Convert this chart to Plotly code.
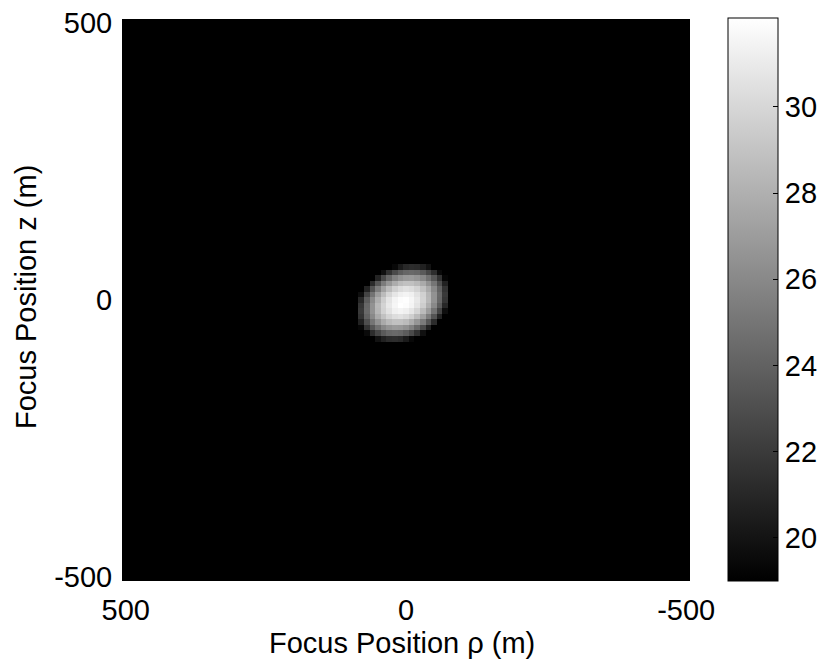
import numpy as np
import plotly.graph_objects as go

# ---- data ----
GRID_X = list(range(-500, 501, 10))      # cell centres, metres (rho)
GRID_Y = list(range(-500, 501, 10))      # cell centres, metres (z)
BACKGROUND = 19.0                        # flat floor value outside the focus
Z_MIN, Z_MAX = 19.0, 32.06               # colour bar range

BLOB_X = [90, 80, 70, 60, 50, 40, 30, 20, 10, 0, -10, -20, -30, -40, -50, -60, -70, -80]
BLOB_Y = [70, 60, 50, 40, 30, 20, 10, 0, -10, -20, -30, -40, -50, -60, -70, -80]
BLOB_Z = [
    [19, 19, 19, 19, 19, 19, 19, 19, 19, 19, 19, 19, 19, 19, 19, 19, 19, 19],
    [19, 19, 19, 19, 19, 19, 19, 19.4, 20.4, 21.1, 21.3, 21.2, 20.7, 19.9, 19, 19, 19, 19],
    [19, 19, 19, 19, 19, 19.8, 21.5, 22.8, 23.7, 24.2, 24.4, 24.2, 23.6, 22.6, 21.3, 19.5, 19, 19],
    [19, 19, 19, 19, 20.8, 22.8, 24.4, 25.6, 26.4, 26.8, 26.9, 26.6, 25.9, 24.8, 23.4, 21.6, 19.3, 19],
    [19, 19, 19, 21.2, 23.4, 25.3, 26.7, 27.8, 28.6, 28.9, 28.9, 28.5, 27.7, 26.5, 25.0, 23.0, 20.7, 19],
    [19, 19, 20.8, 23.3, 25.4, 27.2, 28.6, 29.6, 30.2, 30.5, 30.3, 29.8, 28.9, 27.7, 26.0, 24.0, 21.6, 19],
    [19, 19.7, 22.5, 24.9, 27.0, 28.6, 29.9, 30.8, 31.3, 31.5, 31.3, 30.6, 29.7, 28.3, 26.5, 24.4, 21.9, 19],
    [19, 21.0, 23.7, 26.0, 27.9, 29.5, 30.7, 31.5, 31.9, 32.0, 31.6, 30.9, 29.8, 28.4, 26.5, 24.3, 21.7, 19],
    [19, 21.7, 24.3, 26.5, 28.4, 29.8, 30.9, 31.6, 32.06, 31.9, 31.5, 30.7, 29.5, 27.9, 26.0, 23.7, 21.0, 19],
    [19, 21.9, 24.4, 26.5, 28.3, 29.7, 30.6, 31.3, 31.5, 31.3, 30.8, 29.9, 28.6, 27.0, 24.9, 22.5, 19.7, 19],
    [19, 21.6, 24.0, 26.0, 27.7, 28.9, 29.8, 30.3, 30.5, 30.2, 29.6, 28.6, 27.2, 25.4, 23.3, 20.8, 19, 19],
    [19, 20.7, 23.0, 25.0, 26.5, 27.7, 28.5, 28.9, 28.9, 28.6, 27.8, 26.7, 25.3, 23.4, 21.2, 19, 19, 19],
    [19, 19.3, 21.6, 23.4, 24.8, 25.9, 26.6, 26.9, 26.8, 26.4, 25.6, 24.4, 22.8, 20.8, 19, 19, 19, 19],
    [19, 19, 19.5, 21.3, 22.6, 23.6, 24.2, 24.4, 24.2, 23.7, 22.8, 21.5, 19.8, 19, 19, 19, 19, 19],
    [19, 19, 19, 19, 19.9, 20.7, 21.2, 21.3, 21.1, 20.4, 19.4, 19, 19, 19, 19, 19, 19, 19],
    [19, 19, 19, 19, 19, 19, 19, 19, 19, 19, 19, 19, 19, 19, 19, 19, 19, 19],
]

X_TICKS = [500, 0, -500]
X_TICK_TEXT = ["500", "0", "-500"]
Y_TICKS = [-500, 0, 500]
Y_TICK_TEXT = ["-500", "0", "500"]
CB_TICKS = [20, 22, 24, 26, 28, 30]

X_TITLE = "Focus Position \u03c1 (m)"
Y_TITLE = "Focus Position z (m)"

# ---- build grid ----
z = np.full((len(GRID_Y), len(GRID_X)), BACKGROUND)
for i, yv in enumerate(BLOB_Y):
    yi = GRID_Y.index(yv)
    for j, xv in enumerate(BLOB_X):
        z[yi, GRID_X.index(xv)] = BLOB_Z[i][j]

FONT = "Liberation Sans, Arial, Helvetica, sans-serif"
FS = 29

W, H = 821, 661
ML, MR, MT, MB = 123, 132, 20, 81
plot_w = W - ML - MR
plot_h = H - MT - MB

CB_LEFT_PX = 728
CB_THICK = 50
CB_TOP_PX = 18
CB_BOT_PX = 581
cb_len = CB_BOT_PX - CB_TOP_PX
cb_x = (CB_LEFT_PX - ML) / plot_w
cb_ybot = (H - MB - CB_BOT_PX) / plot_h
cb_ytop = (H - MB - CB_TOP_PX) / plot_h
cb_ymid = (cb_ybot + cb_ytop) / 2

fig = go.Figure(
    go.Heatmap(
        x=GRID_X,
        y=GRID_Y,
        z=z,
        zmin=Z_MIN,
        zmax=Z_MAX,
        colorscale=[[0, "black"], [1, "white"]],
        colorbar=dict(
            x=cb_x, xanchor="left",
            y=cb_ymid, yanchor="middle",
            len=cb_len, lenmode="pixels",
            thickness=CB_THICK, thicknessmode="pixels",
            xpad=0, ypad=0,
            outlinewidth=1, outlinecolor="black",
            tickvals=CB_TICKS,
            ticktext=[str(t) for t in CB_TICKS],
            ticks="inside", ticklen=5, tickcolor="black", tickwidth=1,
            tickfont=dict(family=FONT, size=FS, color="black"),
        ),
        hoverinfo="skip",
    )
)

# left-side colour bar ticks (MATLAB draws them on both sides)
shapes = []
dx = 5 / plot_w
for t in CB_TICKS:
    yp = cb_ybot + (t - Z_MIN) / (Z_MAX - Z_MIN) * (cb_ytop - cb_ybot)
    shapes.append(dict(type="line", xref="paper", yref="paper",
                       x0=cb_x, x1=cb_x + dx, y0=yp, y1=yp,
                       line=dict(color="black", width=1)))

fig.update_layout(
    width=W, height=H, autosize=False,
    margin=dict(l=ML, r=MR, t=MT, b=MB, pad=0, autoexpand=False),
    paper_bgcolor="white", plot_bgcolor="black",
    font=dict(family=FONT, size=FS, color="black"),
    shapes=shapes,
    xaxis=dict(
        range=[505, -505], tickvals=X_TICKS, ticktext=X_TICK_TEXT,
        ticks="inside", ticklen=5, tickcolor="black",
        showgrid=False, zeroline=False,
        showline=True, linecolor="black", linewidth=1, mirror=True,
        tickfont=dict(family=FONT, size=FS, color="black"),
        ticklabelstandoff=4,
    ),
    yaxis=dict(
        range=[-505, 505], tickvals=Y_TICKS, ticktext=Y_TICK_TEXT,
        ticks="inside", ticklen=5, tickcolor="black",
        showgrid=False, zeroline=False,
        showline=True, linecolor="black", linewidth=1, mirror=True,
        tickfont=dict(family=FONT, size=FS, color="black"),
        ticklabelstandoff=4,
    ),
    annotations=[
        dict(text=X_TITLE, xref="paper", yref="paper",
             x=(402 - ML) / plot_w, y=0, yshift=-63,
             xanchor="center", yanchor="middle", showarrow=False,
             font=dict(family=FONT, size=FS, color="black")),
        dict(text=Y_TITLE, xref="paper", yref="paper",
             x=(26 - ML) / plot_w, y=(H - MB - 297) / plot_h,
             xanchor="center", yanchor="middle", textangle=-90, showarrow=False,
             font=dict(family=FONT, size=FS, color="black")),
    ],
)

fig.write_html(
    "out.html",
    config={"displayModeBar": False},
    post_script="document.body.style.margin='0px';document.body.style.padding='0px';",
)
